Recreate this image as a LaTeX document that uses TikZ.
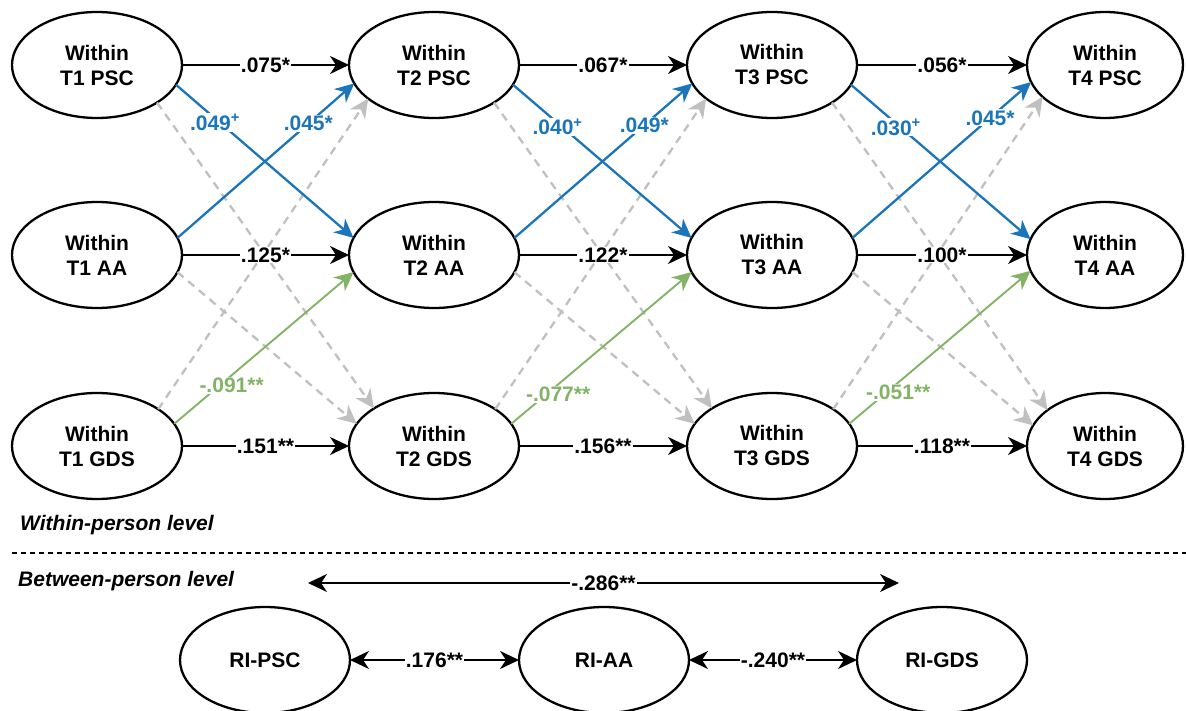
\documentclass[tikz,border=0pt]{standalone}
\usepackage{fontspec}
\setmainfont{Liberation Sans}
\usetikzlibrary{shapes.geometric,arrows.meta}
\definecolor{cblue}{RGB}{27,117,187}
\definecolor{cgreen}{RGB}{130,179,102}
\definecolor{cgray}{RGB}{192,192,192}
\begin{document}
\begin{tikzpicture}[x=1pt,y=-1pt,
  font=\fontsize{21}{25}\selectfont\bfseries,
  lat/.style={ellipse,draw,line width=2.3pt,minimum width=170pt,minimum height=106pt,inner sep=0pt,outer sep=0pt,align=center},
  lat4/.style={lat,minimum width=156pt},
  tipend/.style={-{Stealth[length=19pt,width=18pt,inset=6pt]}},
  bitip/.style={{Stealth[length=19pt,width=18pt,inset=6pt]}-{Stealth[length=19pt,width=18pt,inset=6pt]}},
  ar/.style={line width=2.3pt,tipend},
  biar/.style={line width=2.3pt,bitip},
  bar/.style={line width=2.3pt,draw=cblue,tipend},
  gar/.style={line width=2.3pt,draw=cgray,dash pattern=on 8pt off 6pt,tipend},
  grn/.style={line width=1.9pt,draw=cgreen,tipend},
  lab/.style={fill=white,inner sep=1pt},
  lvl/.style={anchor=west,inner sep=0pt,font=\fontsize{21}{25}\selectfont\bfseries\itshape}
]
\useasboundingbox (0,0) rectangle (1186,711);

% within-person latent variables
\node[lat] (P1) at (97,65) {Within\\T1 PSC};
\node[lat] (A1) at (97,255) {Within\\T1 AA};
\node[lat] (G1) at (97,446) {Within\\T1 GDS};
\node[lat] (P2) at (434,65) {Within\\T2 PSC};
\node[lat] (A2) at (434,255) {Within\\T2 AA};
\node[lat] (G2) at (434,446) {Within\\T2 GDS};
\node[lat] (P3) at (772,65) {Within\\T3 PSC};
\node[lat] (A3) at (772,255) {Within\\T3 AA};
\node[lat] (G3) at (772,446) {Within\\T3 GDS};
\node[lat4] (P4) at (1105,65) {Within\\T4 PSC};
\node[lat4] (A4) at (1105,255) {Within\\T4 AA};
\node[lat4] (G4) at (1105,446) {Within\\T4 GDS};

\foreach \i/\j/\bp/\ba/\bg/\bd/\bu/\gr/\pd/\pu/\pg in {
  1/2/.075*/.125*/.151**/.049/.045*/-.091**/0.22/0.74/0.32,
  2/3/.067*/.122*/.156**/.040/.049*/-.077**/0.25/0.73/0.26,
  3/4/.056*/.100*/.118**/.030/.045*/-.051**/0.25/0.77/0.27}{
  \draw[gar] (P\i.-32) -- (G\j.148);
  \draw[gar] (G\i.31) -- (P\j.207);
  \draw[gar] (A\i.-12) -- (G\j.164);
  \draw[bar] (P\i.-14) -- node[lab,pos=\pd,text=cblue,yshift=-4pt]{\bd\textsuperscript{+}} (A\j.168);
  \draw[bar] (A\i.12) -- node[lab,pos=\pu,text=cblue]{\bu} (P\j.193);
  \draw[grn] (G\i.16) -- node[lab,pos=\pg,text=cgreen,yshift=-10pt]{\gr} (A\j.192);
  \draw[ar] (P\i.east) -- node[lab]{\bp} (P\j.west);
  \draw[ar] (A\i.east) -- node[lab]{\ba} (A\j.west);
  \draw[ar] (G\i.east) -- node[lab]{\bg} (G\j.west);
}

% level labels and separator
\node[lvl] (wl) at (20,525) {Within-person level};
\coordinate (S1) at (12,553);
\coordinate (S2) at (1186,553);
\draw[line width=1.3pt,dash pattern=on 5pt off 4pt] (S1) -- (S2);
\node[lvl] (bl) at (18,581) {Between-person level};

% between-person level
\node[lat] (RP) at (265,660) {RI-PSC};
\node[lat] (RA) at (604,660) {RI-AA};
\node[lat] (RG) at (942,660) {RI-GDS};
\coordinate (L) at (308,583);
\coordinate (R) at (899,583);
\draw[biar] (L) -- node[lab]{-.286**} (R);
\draw[biar] (RP.east) -- node[lab]{.176**} (RA.west);
\draw[biar] (RA.east) -- node[lab]{-.240**} (RG.west);
\end{tikzpicture}
\end{document}
